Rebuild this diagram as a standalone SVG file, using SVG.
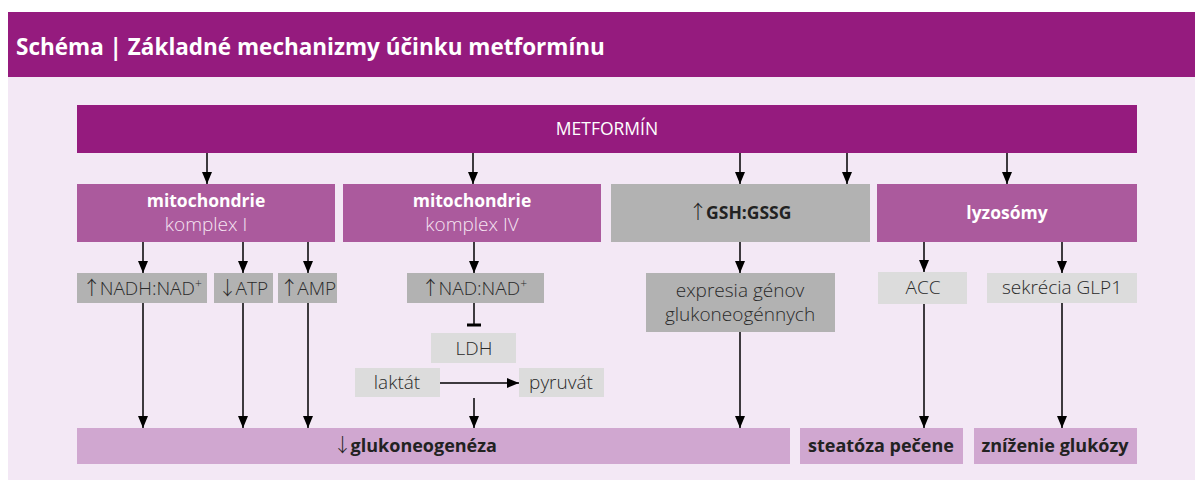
<svg xmlns="http://www.w3.org/2000/svg" width="1203" height="487" viewBox="0 0 1203 487">
<defs>
<style>
text{font-family:"Open Sans","Noto Sans","Liberation Sans",sans-serif;font-size:18px;text-anchor:middle}
.dark{fill:#951B7E}
.mid{fill:#AB5A9D}
.g1{fill:#B2B2B2}
.g2{fill:#DCDCDC}
.pk{fill:#D0A7D0}
.w{fill:#FFFFFF}
.wl{fill:#F6E4F2;font-weight:300;font-size:19px}
.b{font-weight:700}
.t{fill:#222222}
.tl{fill:#2A2A2A;font-weight:300;font-size:19px}
.ar{font-family:"Noto Sans CJK SC","DejaVu Sans",sans-serif;font-weight:300;font-size:19px;letter-spacing:-1.5px}
.c{stroke:#000;stroke-width:1.5;fill:none}
.arr{marker-end:url(#ah)}
</style>
<marker id="ah" viewBox="0 0 12 10" refX="12" refY="5" markerWidth="12" markerHeight="10" markerUnits="userSpaceOnUse" orient="auto">
<path d="M0,0 L12,5 L0,10 z" fill="#000"/>
</marker>
</defs>
<rect x="8" y="12" width="1187" height="65" class="dark"/>
<rect x="8" y="77" width="1187" height="403" fill="#F3E8F5"/>
<text x="16" y="55" class="w b" style="text-anchor:start;font-size:22.5px">Schéma | Základné mechanizmy účinku metformínu</text>

<g id="metformin"><rect x="77" y="105" width="1060" height="48" class="dark"/><text x="607" y="135" class="w" style="font-size:17.5px">METFORMÍN</text></g>

<g id="mito1"><rect x="77" y="184" width="258" height="58" class="mid"/><text x="206" y="207" class="w b" style="font-size:17.5px">mitochondrie</text><text x="206" y="231" class="wl">komplex I</text></g>
<g id="mito4"><rect x="343" y="184" width="258" height="58" class="mid"/><text x="472" y="207" class="w b" style="font-size:17.5px">mitochondrie</text><text x="472" y="231" class="wl">komplex IV</text></g>
<g id="gsh"><rect x="611" y="184" width="259" height="58" class="g1"/><text x="740" y="219" class="t b" style="font-size:17.5px"><tspan class="ar">↑</tspan>GSH:GSSG</text></g>
<g id="lyzo"><rect x="877" y="184" width="260" height="58" class="mid"/><text x="1007" y="219" class="w b" style="font-size:17.5px">lyzosómy</text></g>

<g id="nadh"><rect x="77" y="273" width="130" height="30" class="g1"/><text x="142" y="295" class="tl"><tspan class="ar">↑</tspan>NADH:NAD<tspan dy="-7" font-size="12">+</tspan></text></g>
<g id="atp"><rect x="214" y="273" width="59" height="30" class="g1"/><text x="243" y="295" class="tl"><tspan class="ar">↓</tspan>ATP</text></g>
<g id="amp"><rect x="278" y="273" width="59" height="30" class="g1"/><text x="308" y="295" class="tl"><tspan class="ar">↑</tspan>AMP</text></g>
<g id="nad"><rect x="407" y="273" width="137" height="30" class="g1"/><text x="474" y="295" class="tl"><tspan class="ar">↑</tspan>NAD:NAD<tspan dy="-7" font-size="12">+</tspan></text></g>
<g id="expresia"><rect x="646" y="273" width="189" height="59" class="g1"/><text x="740" y="297" class="tl">expresia génov</text><text x="740" y="321" class="tl">glukoneogénnych</text></g>
<g id="acc"><rect x="878" y="272" width="89" height="32" class="g2"/><text x="923" y="294" class="tl">ACC</text></g>
<g id="glp1"><rect x="987" y="273" width="150" height="30" class="g2"/><text x="1062" y="294" class="tl">sekrécia GLP1</text></g>

<g id="ldh"><rect x="431" y="333" width="85" height="30" class="g2"/><text x="474" y="355" class="tl">LDH</text></g>
<g id="laktat"><rect x="355" y="368" width="85" height="29" class="g2"/><text x="397" y="389" class="tl">laktát</text></g>
<g id="pyruvat"><rect x="519" y="368" width="85" height="29" class="g2"/><text x="561" y="389" class="tl">pyruvát</text></g>

<g id="gluko"><rect x="77" y="428" width="713" height="36" class="pk"/><text x="415" y="452" class="t b"><tspan class="ar">↓</tspan>glukoneogenéza</text></g>
<g id="steatoza"><rect x="800" y="428" width="163" height="36" class="pk"/><text x="881" y="452" class="t b">steatóza pečene</text></g>
<g id="znizenie"><rect x="974" y="428" width="163" height="36" class="pk"/><text x="1055" y="452" class="t b">zníženie glukózy</text></g>

<g id="connectors">
<path class="c arr" d="M207,153 V184"/>
<path class="c arr" d="M473,153 V184"/>
<path class="c arr" d="M740,153 V184"/>
<path class="c arr" d="M847,153 V184"/>
<path class="c arr" d="M1007,153 V184"/>
<path class="c arr" d="M143,242 V273"/>
<path class="c arr" d="M243,242 V273"/>
<path class="c arr" d="M308,242 V273"/>
<path class="c arr" d="M474,242 V273"/>
<path class="c arr" d="M740,242 V273"/>
<path class="c arr" d="M924,242 V272"/>
<path class="c arr" d="M1062,242 V273"/>
<path class="c" d="M474,303 V325"/>
<path d="M467,325 H481" stroke="#000" stroke-width="3"/>
<path class="c arr" d="M440,383 H519"/>
<path class="c arr" d="M474,398 V428"/>
<path class="c arr" d="M143,303 V428"/>
<path class="c arr" d="M243,303 V428"/>
<path class="c arr" d="M308,303 V428"/>
<path class="c arr" d="M740,332 V428"/>
<path class="c arr" d="M924,304 V428"/>
<path class="c arr" d="M1062,303 V428"/>
</g>
</svg>
